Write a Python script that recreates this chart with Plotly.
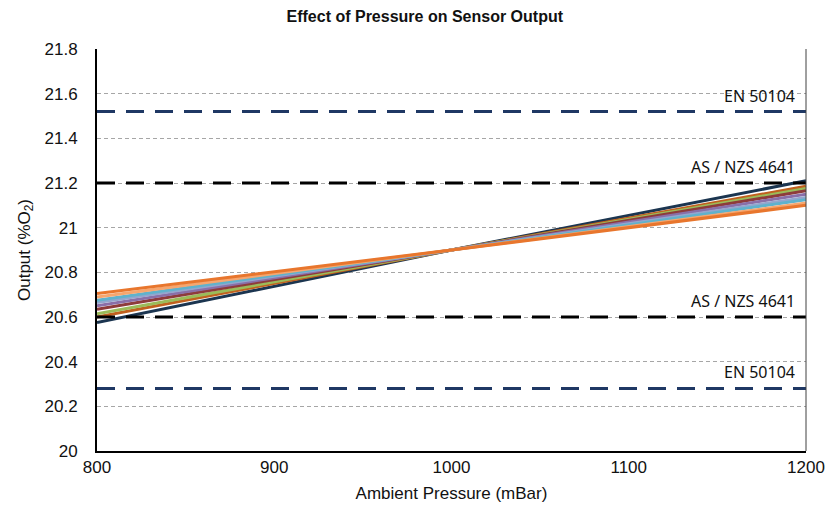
import plotly.graph_objects as go

pressure = [800, 1000, 1200]
# sensor output series (%O2), read at 800, 1000, 1200 mBar
series_vals = [
    [20.705, 20.9, 21.10],
    [20.69, 20.9, 21.11],
    [20.675, 20.9, 21.125],
    [20.665, 20.9, 21.135],
    [20.65, 20.9, 21.15],
    [20.635, 20.9, 21.165],
    [20.615, 20.9, 21.175],
    [20.60, 20.9, 21.185],
    [20.575, 20.9, 21.21],
]
series_colors = ["#E8762D", "#F6A66E", "#5FB2CC", "#93A6CE", "#8A6FA8",
                 "#8E3B3B", "#9BBB59", "#C0601E", "#1B3550"]

limit_x = [800, 1200]
en_limits = [21.52, 20.28]
as_limits = [21.2, 20.6]
en_label = "EN 50104"
as_label = "AS / NZS 4641"

x_ticks = [800, 900, 1000, 1100, 1200]
y_ticks = [20, 20.2, 20.4, 20.6, 20.8, 21, 21.2, 21.4, 21.6, 21.8]
y_tick_text = ["20", "20.2", "20.4", "20.6", "20.8", "21", "21.2", "21.4", "21.6", "21.8"]

fig = go.Figure()

for vals, col in zip(reversed(series_vals), reversed(series_colors)):
    fig.add_trace(go.Scatter(x=pressure, y=vals, mode="lines",
                             line=dict(color=col, width=3), showlegend=False,
                             hoverinfo="skip"))

for v in en_limits:
    fig.add_trace(go.Scatter(x=limit_x, y=[v, v], mode="lines",
                             line=dict(color="#1F3864", width=3, dash="18px,11px"),
                             showlegend=False, hoverinfo="skip"))
for v in as_limits:
    fig.add_trace(go.Scatter(x=limit_x, y=[v, v], mode="lines",
                             line=dict(color="#000000", width=3, dash="18px,11px"),
                             showlegend=False, hoverinfo="skip"))

label_font = dict(family="Noto Sans, Liberation Sans, sans-serif", size=16, color="#111111")
for v in en_limits:
    fig.add_annotation(x=1195, y=v, text=en_label, showarrow=False, xanchor="right",
                       yanchor="bottom", yshift=3, font=label_font)
for v in as_limits:
    fig.add_annotation(x=1195, y=v, text=as_label, showarrow=False, xanchor="right",
                       yanchor="bottom", yshift=3, font=label_font)

tick_font = dict(family="Liberation Sans, Arial, sans-serif", size=17, color="#111111")
axis_title_font = dict(family="Liberation Sans, Arial, sans-serif", size=17, color="#111111")
fig.update_layout(
    width=828, height=510,
    margin=dict(l=97, r=22, t=49, b=59),
    paper_bgcolor="white", plot_bgcolor="white",
    title=dict(text="<b>Effect of Pressure on Sensor Output</b>", x=0.513, xanchor="center",
               y=0.967, yanchor="middle",
               font=dict(family="Liberation Sans, Arial, sans-serif", size=16, color="#111111")),
    xaxis=dict(range=[800, 1200], tickvals=x_ticks, ticktext=[str(t) for t in x_ticks],
               showgrid=False, zeroline=False, showline=True, linecolor="#000000",
               linewidth=2, mirror=False, ticks="", tickfont=tick_font, automargin=False,
               title=dict(text="Ambient Pressure (mBar)", standoff=11, font=axis_title_font)),
    yaxis=dict(range=[20, 21.8], tickvals=y_ticks, ticktext=y_tick_text,
               showgrid=True, gridcolor="#A6A6A6", griddash="4px,3px", gridwidth=1,
               zeroline=False, showline=True, linecolor="#000000", linewidth=2,
               ticks="outside", ticklen=14, tickcolor="rgba(0,0,0,0)", tickfont=tick_font,
               automargin=False,
               title=dict(text="Output (%O<sub>2</sub>)", standoff=10, font=axis_title_font)),
)
fig.add_shape(type="line", xref="paper", yref="paper", x0=1, x1=1, y0=0, y1=1,
              line=dict(color="#404040", width=1))

fig.write_html("out.html")
